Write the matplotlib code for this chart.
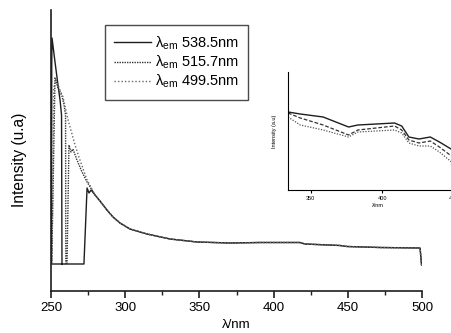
import numpy as np
import matplotlib.pyplot as plt
from matplotlib.ticker import MultipleLocator

plt.rcParams['font.family'] = ['Liberation Sans', 'DejaVu Sans']
plt.rcParams['mathtext.fontset'] = 'custom'
plt.rcParams['mathtext.rm'] = 'Liberation Sans'

# shared decay tail of all three excitation spectra
tail_wl = [279.7, 283.0, 287.7, 291.8, 296.5, 303.2, 314.7, 330.2, 348.4, 370.6,
           390.8, 417.8, 421.2, 444.8, 449.5, 471.7, 498.7, 499.7]
tail_I = [69, 63, 54, 47, 41, 35, 30, 25, 22, 21,
          21.5, 21.5, 20, 18.5, 17.5, 16.5, 16, -1]

# head parts of each spectrum
wl_538 = [257.4, 250.3, 250.5, 250.7, 252.7, 254.7, 256.1, 257.1, 257.4, 272.2, 274.3, 275.6, 277.0]
I_538 = [0, 0, 200, 226, 202, 179, 164, 149, 0, 0, 76, 71, 74]

wl_515 = [250.5, 252.7, 254.7, 257.4, 258.8, 259.8, 260.0, 260.8, 262.1, 263.5,
          264.8, 267.5, 270.9, 274.3]
I_515 = [0, 186, 176, 168, 159, 149, 0, 0, 119, 112, 115, 104, 92, 82]

wl_499 = [250.6, 251.8, 253.4, 256.1, 258.1, 261.5, 266.2, 269.5, 274.3]
I_499 = [0, 176, 184, 174, 167, 144, 119, 104, 84]

labels = ['λ$_{\\mathrm{em}}$ 538.5nm', 'λ$_{\\mathrm{em}}$ 515.7nm', 'λ$_{\\mathrm{em}}$ 499.5nm']

# inset curves
ins_wl = [334.0, 342.6, 358.6, 376.4, 382.9, 408.6, 413.6, 418.6, 425.7, 433.6, 440.0, 449.3]
ins_a = [112, 114, 117, 127, 125, 123, 126, 137, 139, 137, 142, 150]
ins_b = [113, 118, 125, 135, 130, 126, 130, 140, 143, 141, 147, 157]
ins_c = [117, 125, 130, 137, 132, 130, 133, 143, 146, 146, 152, 163]

fig = plt.figure(figsize=(4.51, 3.33), dpi=100)
ax = fig.add_axes([51/451, 1-291/333, 371/451, 281/333])

ink = '#1e1e1e'
ax.plot(wl_538 + tail_wl, I_538 + tail_I, color=ink, lw=1.0, label=labels[0])
ax.plot(wl_515 + tail_wl, I_515 + tail_I, color='#333333', lw=1.0,
        linestyle=(0, (1, 0.8)), label=labels[1])
ax.plot(wl_499 + tail_wl, I_499 + tail_I, color='#666666', lw=1.0,
        linestyle=(0, (1, 1.5)), label=labels[2])

ax.set_xlim(250, 500)
ax.set_ylim(-27, 254)
ax.spines['top'].set_visible(False)
ax.spines['right'].set_visible(False)
for s in ['left', 'bottom']:
    ax.spines[s].set_color(ink)
    ax.spines[s].set_linewidth(1.2)
ax.set_yticks([])
ax.xaxis.set_major_locator(MultipleLocator(50))
ax.xaxis.set_minor_locator(MultipleLocator(25))
ax.tick_params(axis='x', which='major', direction='out', length=5, width=1.2,
               color=ink, labelsize=9.5, pad=3)
ax.tick_params(axis='x', which='minor', direction='out', length=3, width=1.0, color=ink)
ax.set_xlabel('λ/nm', fontsize=9.5)
ax.xaxis.set_label_coords(0.4987, -0.098)
ax.set_ylabel('Intensity (u.a)', fontsize=11.2)
ax.yaxis.set_label_coords(-0.066, 0.466)

leg = ax.legend(loc='upper left', bbox_to_anchor=(105/451, 1-25/333),
                bbox_transform=fig.transFigure, fontsize=10.5, frameon=True,
                fancybox=False, edgecolor=ink, handlelength=2.5,
                borderaxespad=0, borderpad=0.65, labelspacing=0.1,
                handletextpad=0.25)
leg.get_frame().set_linewidth(1.0)

# inset
ins = fig.add_axes([288/451, 1-190/333, 180/451, 118/333])
ins.plot(ins_wl, ins_a, color=ink, lw=1.0)
ins.plot(ins_wl, ins_b, color='#333333', lw=0.9, linestyle=(0, (3, 1.5)))
ins.plot(ins_wl, ins_c, color='#555555', lw=0.9, linestyle=(0, (1, 1.2)))
ins.set_xlim(334, 460)
ins.set_ylim(190, 72)
ins.spines['top'].set_visible(False)
ins.spines['right'].set_visible(False)
ins.set_yticks([])
ins.set_xticks([350, 400, 450])
ins.tick_params(axis='x', length=2, width=0.8, labelsize=4, pad=2)
ins.set_xlabel('λ/nm', fontsize=4, labelpad=2)
ins.set_ylabel('Intensity (a.u)', fontsize=4, labelpad=8)

fig.savefig('out.png', dpi=100)
